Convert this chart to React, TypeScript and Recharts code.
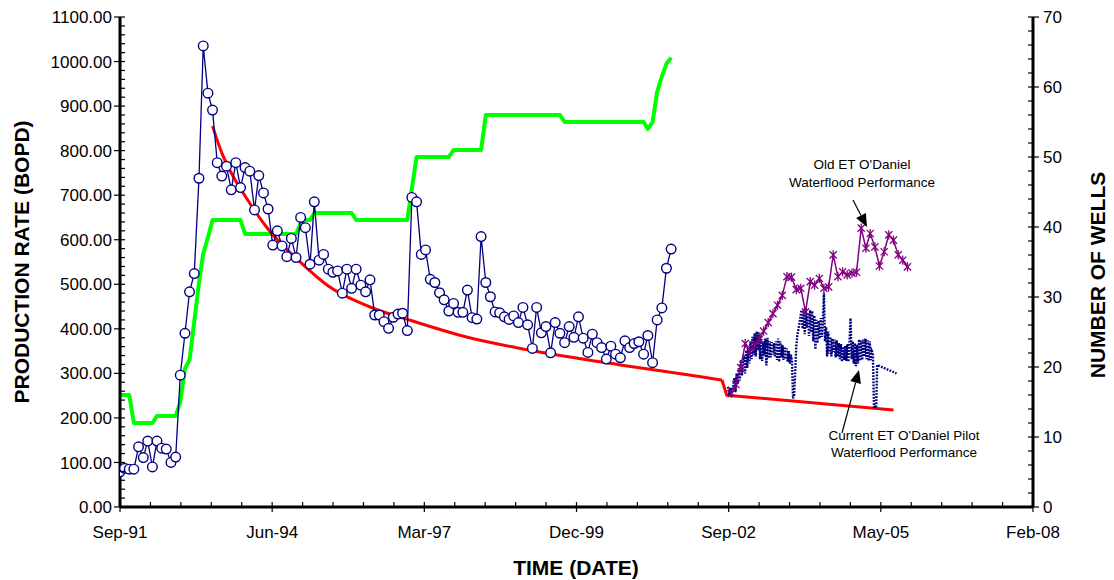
import React from 'react';
import { ComposedChart, Line, XAxis, YAxis } from 'recharts';

const W = 1114;
const H = 580;
const FONT = '"Liberation Sans", Arial, Helvetica, sans-serif';

// Time axis: days counted from the axis origin in mid-September 1991
const AXIS_START = Date.UTC(1991, 8, 15);
const DAY_MS = 86400000;
const dayOf = (y: number, m: number, d = 15) => (Date.UTC(y, m - 1, d) - AXIS_START) / DAY_MS;

const timeTicks = [0, 1000, 2000, 3000, 4000, 5000, 6000];
const timeTickLabels = ['Sep-91', 'Jun-94', 'Mar-97', 'Dec-99', 'Sep-02', 'May-05', 'Feb-08'];
const rateTicks = [0, 100, 200, 300, 400, 500, 600, 700, 800, 900, 1000, 1100];
const wellTicks = [0, 10, 20, 30, 40, 50, 60, 70];

// Monthly field production (BOPD), Sep-1991 through Aug-2001
const fieldProduction = [
  79, 87, 85, 85, 135, 111, 148, 90, 148, 132, 130, 100, 112, 296, 390, 483, 524, 738, 1035, 929,
  891, 773, 743, 765, 712, 773, 717, 762, 754, 667, 744, 705, 669, 588, 620, 586, 562, 603, 560, 650,
  627, 545, 685, 554, 567, 534, 527, 530, 480, 534, 491, 534, 498, 483, 510, 431, 431, 416, 401, 426,
  433, 435, 396, 695, 685, 567, 577, 511, 504, 481, 465, 440, 457, 437, 437, 487, 425, 422, 607, 504,
  472, 438, 436, 427, 421, 429, 414, 448, 409, 356, 448, 391, 405, 346, 414, 390, 369, 405, 381, 427,
  379, 347, 388, 369, 358, 332, 361, 343, 335, 373, 358, 367, 371, 343, 385, 324, 420, 447, 536, 579,
];

// Producing wells: [year, month, wells]
const wellCount: [number, number, number][] = [
  [1991, 9, 16], [1991, 11, 16], [1991, 12, 12], [1992, 4, 12], [1992, 5, 13], [1992, 9, 13],
  [1992, 10, 15], [1992, 11, 19.8], [1992, 12, 21], [1993, 1, 26.5], [1993, 2, 32], [1993, 3, 36.2],
  [1993, 4, 38.5], [1993, 5, 41], [1993, 11, 41], [1993, 12, 39], [1994, 11, 39], [1994, 12, 40.5],
  [1995, 1, 41], [1995, 2, 41], [1995, 3, 42], [1995, 11, 42], [1995, 12, 41], [1996, 11, 41],
  [1996, 12, 45.5], [1997, 1, 50], [1997, 8, 50], [1997, 9, 51], [1998, 3, 51], [1998, 4, 56],
  [1999, 8, 56], [1999, 9, 55], [2001, 2, 55], [2001, 3, 54], [2001, 4, 55], [2001, 5, 59.3],
  [2001, 6, 61.5], [2001, 7, 63.3], [2001, 8, 64.2],
];

// Hyperbolic decline forecast (BOPD): [year, month, rate]
const declineCurve: [number, number, number][] = [
  [1993, 5, 855], [1993, 7, 795], [1993, 9, 750], [1993, 12, 698], [1994, 3, 652], [1994, 5, 624],
  [1994, 12, 549], [1995, 6, 496], [1996, 3, 449], [1996, 12, 418], [1997, 12, 381], [1999, 1, 353],
  [2000, 9, 319], [2002, 2, 293], [2002, 7, 285],
];
// Forecast after the pilot start: step down, then straight decline
const declineTail: [number, number, number][] = [
  [2002, 7, 285], [2002, 8, 251], [2005, 8, 218],
];

// Old ET O'Daniel waterflood, monthly from Sep-2002 (BOPD)
const oldFlood = [
  255, 275, 313, 367, 349, 363, 376, 395, 414, 434, 453, 475, 517, 516, 488, 491, 438, 506, 498, 513,
  491, 494, 566, 517, 528, 521, 525, 527, 626, 581, 614, 584, 541, 573, 611, 599, 566, 554, 539,
];

// Current pilot waterflood, weekly from 24-Aug-2002 (BOPD)
const pilotWeekly = [
  270, 252, 268, 248, 264, 272, 290, 258, 300, 276, 312, 284, 330, 295, 325, 340, 300, 352, 312, 358,
  322, 372, 332, 382, 342, 390, 338, 394, 352, 392, 332, 386, 328, 372, 340, 378, 318, 380, 334, 372,
  336, 370, 342, 368, 338, 372, 330, 378, 326, 372, 336, 364, 330, 360, 332, 356, 326, 350, 322, 342,
  330, 244, 250, 300, 360, 385, 398, 412, 428, 442, 400, 444, 388, 446, 402, 436, 384, 442, 392, 440,
  372, 430, 354, 420, 368, 418, 378, 424, 382, 414, 480, 372, 404, 338, 394, 344, 382, 338, 378, 348,
  376, 336, 374, 338, 368, 332, 366, 326, 360, 330, 362, 328, 366, 326, 368, 424, 332, 372, 322, 368,
  316, 364, 322, 376, 328, 374, 330, 376, 338, 378, 332, 374, 328, 372, 330, 350, 345, 222, 225, 222,
  319,
];
const pilotLast: [number, number, number, number] = [2005, 9, 4, 300];

const productionRows = fieldProduction.map((v, i) => ({ t: dayOf(1991, 9 + i), v }));
const wellRows = wellCount.map(([y, m, v]) => ({ t: dayOf(y, m), v }));
const declineRows = declineCurve.map(([y, m, v]) => ({ t: dayOf(y, m), v }));
const declineTailRows = declineTail.map(([y, m, v]) => ({ t: dayOf(y, m), v }));
const oldFloodRows = oldFlood.map((v, i) => ({ t: dayOf(2002, 9 + i), v }));
const pilotStart = dayOf(2002, 8, 24);
const pilotRows = [
  ...pilotWeekly.map((v, i) => ({ t: pilotStart + 7 * i, v })),
  { t: dayOf(pilotLast[0], pilotLast[1], pilotLast[2]), v: pilotLast[3] },
];

const steps = (max: number, step: number) =>
  Array.from({ length: Math.round(max / step) + 1 }, (_, i) => i * step);

const timeAllTicks = steps(6000, 200);
const rateAllTicks = steps(1100, 20);
const wellAllTicks = steps(70, 2);

const labelStyle = { fontSize: 17, fontFamily: FONT, fill: '#000' };

const TimeTick = (p: any) => {
  const { x, y, payload } = p;
  const idx = timeTicks.indexOf(payload.value);
  const major = idx >= 0;
  return (
    <g>
      <line x1={x} x2={x} y1={y - 5} y2={major ? y + 5 : y} stroke="#000" strokeWidth={1.2} />
      {major && (
        <text x={x} y={y + 31} textAnchor="middle" {...labelStyle}>
          {timeTickLabels[idx]}
        </text>
      )}
    </g>
  );
};

const RateTick = (p: any) => {
  const { x, y, payload } = p;
  const major = rateTicks.includes(payload.value);
  return (
    <g>
      <line x1={major ? x - 6 : x} x2={x + 5} y1={y} y2={y} stroke="#000" strokeWidth={1.2} />
      {major && (
        <text x={x - 8} y={y} dy="0.36em" textAnchor="end" {...labelStyle}>
          {payload.value.toFixed(2)}
        </text>
      )}
    </g>
  );
};

const WellTick = (p: any) => {
  const { x, y, payload } = p;
  const major = wellTicks.includes(payload.value);
  return (
    <g>
      <line x1={x - 5} x2={major ? x + 6 : x} y1={y} y2={y} stroke="#000" strokeWidth={1.2} />
      {major && (
        <text x={x + 10} y={y} dy="0.36em" textAnchor="start" {...labelStyle}>
          {payload.value}
        </text>
      )}
    </g>
  );
};

const StarDot = (p: any) => {
  const { cx, cy, index } = p;
  if (cx == null || cy == null) return <g key={`s${index}`} />;
  const s = 3.6;
  return (
    <g key={`s${index}`} stroke="#800080" strokeWidth={1.3}>
      <line x1={cx - s} y1={cy - s} x2={cx + s} y2={cy + s} />
      <line x1={cx - s} y1={cy + s} x2={cx + s} y2={cy - s} />
      <line x1={cx} y1={cy - s - 1} x2={cx} y2={cy + s + 1} />
    </g>
  );
};

const axisLine = { stroke: '#000', strokeWidth: 3 };

const Arrow = ({ x1, y1, x2, y2 }: { x1: number; y1: number; x2: number; y2: number }) => {
  const a = Math.atan2(y2 - y1, x2 - x1);
  const len = 13;
  const wid = 5.5;
  const bx = x2 - len * Math.cos(a);
  const by = y2 - len * Math.sin(a);
  const px = -Math.sin(a) * wid;
  const py = Math.cos(a) * wid;
  return (
    <g>
      <line x1={x1} y1={y1} x2={bx} y2={by} stroke="#000" strokeWidth={1.2} />
      <polygon points={`${x2},${y2} ${bx + px},${by + py} ${bx - px},${by - py}`} fill="#000" />
    </g>
  );
};

export default function App() {
  return (
    <div style={{ position: 'absolute', left: 0, top: 0, width: W, height: H, background: '#fff' }}>
      <ComposedChart width={W} height={H} margin={{ top: 17, right: 0, bottom: 0, left: 0 }}>
        <XAxis
          xAxisId="t"
          type="number"
          dataKey="t"
          domain={[0, 6000]}
          ticks={timeAllTicks}
          interval={0}
          allowDataOverflow
          height={73}
          tickSize={0}
          tickMargin={0}
          tickLine={false}
          axisLine={axisLine}
          tick={<TimeTick />}
        />
        <YAxis
          yAxisId="rate"
          orientation="left"
          domain={[0, 1100]}
          ticks={rateAllTicks}
          interval={0}
          allowDataOverflow
          width={120}
          tickSize={0}
          tickMargin={0}
          tickLine={false}
          axisLine={axisLine}
          tick={<RateTick />}
        />
        <YAxis
          yAxisId="wells"
          orientation="right"
          domain={[0, 70]}
          ticks={wellAllTicks}
          interval={0}
          allowDataOverflow
          width={81}
          tickSize={0}
          tickMargin={0}
          tickLine={false}
          axisLine={axisLine}
          tick={<WellTick />}
        />
        <Line
          xAxisId="t"
          yAxisId="wells"
          data={wellRows}
          dataKey="v"
          type="linear"
          stroke="#00FF00"
          strokeWidth={4}
          strokeLinejoin="round"
          dot={false}
          isAnimationActive={false}
        />
        <Line
          xAxisId="t"
          yAxisId="rate"
          data={declineRows}
          dataKey="v"
          type="monotone"
          stroke="#FF0000"
          strokeWidth={3}
          dot={false}
          isAnimationActive={false}
        />
        <Line
          xAxisId="t"
          yAxisId="rate"
          data={declineTailRows}
          dataKey="v"
          type="linear"
          stroke="#FF0000"
          strokeWidth={3}
          strokeLinejoin="round"
          dot={false}
          isAnimationActive={false}
        />
        <Line
          xAxisId="t"
          yAxisId="rate"
          data={productionRows}
          dataKey="v"
          type="linear"
          stroke="#000080"
          strokeWidth={1.3}
          dot={{ r: 4.8, fill: '#fff', stroke: '#000080', strokeWidth: 1.4 }}
          isAnimationActive={false}
        />
        <Line
          xAxisId="t"
          yAxisId="rate"
          data={pilotRows}
          dataKey="v"
          type="linear"
          stroke="#000080"
          strokeWidth={2.4}
          strokeDasharray="1.8 1.3"
          dot={false}
          isAnimationActive={false}
        />
        <Line
          xAxisId="t"
          yAxisId="rate"
          data={oldFloodRows}
          dataKey="v"
          type="linear"
          stroke="#800080"
          strokeWidth={1.5}
          dot={<StarDot />}
          isAnimationActive={false}
        />
      </ComposedChart>
      <svg
        width={W}
        height={H}
        style={{ position: 'absolute', left: 0, top: 0, pointerEvents: 'none' }}
        fontFamily={FONT}
      >
        <text transform="translate(21,262) rotate(-90)" textAnchor="middle" dy="0.36em" fontSize={21} fontWeight="bold">
          PRODUCTION RATE (BOPD)
        </text>
        <text transform="translate(1097,275) rotate(-90)" textAnchor="middle" dy="0.36em" fontSize={21} fontWeight="bold">
          NUMBER OF WELLS
        </text>
        <text x={576} y={575} textAnchor="middle" fontSize={21} fontWeight="bold">
          TIME (DATE)
        </text>
        <text x={862} y={169} textAnchor="middle" fontSize={13.5}>Old ET O'Daniel</text>
        <text x={862} y={187} textAnchor="middle" fontSize={13.5}>Waterflood Performance</text>
        <Arrow x1={853} y1={200} x2={867} y2={227} />
        <text x={904} y={440} textAnchor="middle" fontSize={13.5}>Current ET O'Daniel Pilot</text>
        <text x={904} y={457} textAnchor="middle" fontSize={13.5}>Waterflood Performance</text>
        <Arrow x1={842} y1={433} x2={859} y2={370} />
      </svg>
    </div>
  );
}
